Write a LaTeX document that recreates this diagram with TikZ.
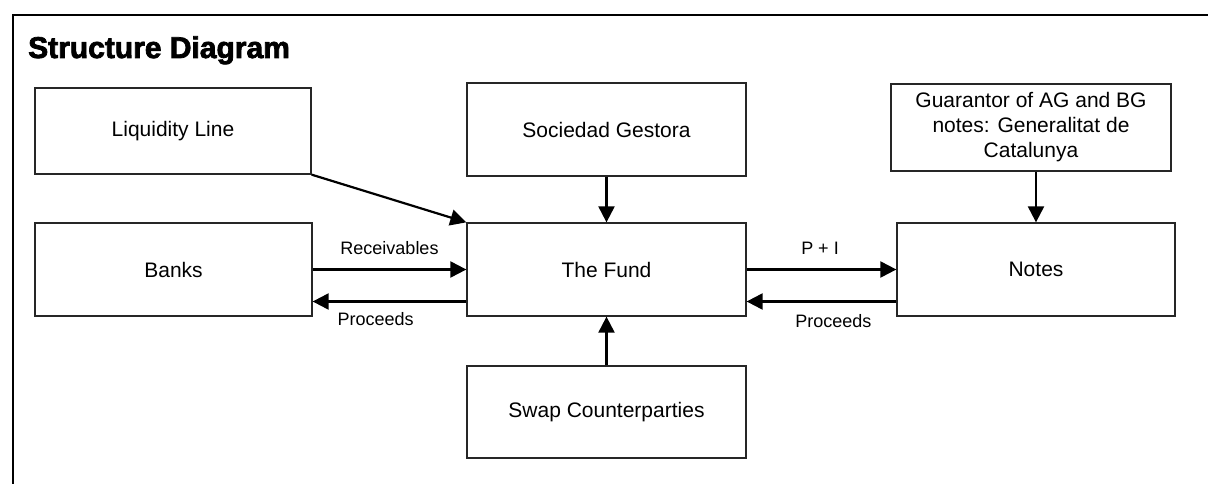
\documentclass[tikz,border=0pt]{standalone}
\usepackage{fontspec}
\setmainfont{Liberation Sans}
\newfontfamily\heavyfont[BoldFeatures={FakeBold=2.5}]{Liberation Sans}
\usetikzlibrary{arrows.meta}

\begin{document}
\begin{tikzpicture}[x=1pt, y=-1pt,
    box/.style={draw, line width=1.3pt, draw=black!85, align=center, inner sep=4pt,
      font=\fontsize{21}{25}\selectfont},
    arr/.style={line width=2.2pt, -{Triangle[length=16pt, width=16pt]}},
    lbl/.style={inner sep=0pt, font=\fontsize{18}{21}\selectfont}]
              \useasboundingbox (0,0) rectangle (1208,484);
              \draw[line width=2.6pt] (13,486) -- (13,15) -- (1210,15);
              \node[anchor=base west, inner sep=0pt, font=\fontsize{30}{34}\heavyfont\bfseries] (title) at (28,58) {Structure Diagram};

              \node[box, minimum width=276pt, minimum height=86pt] (liq) at (173,131) {Liquidity Line};
              \node[box, minimum width=279pt, minimum height=93pt] (soc) at (606.5,129.5) {Sociedad Gestora};
              \node[box, minimum width=280pt, minimum height=87pt] (guar) at (1031,127.5) {Guarantor of AG and BG\\notes: Generalitat de\\Catalunya};
              \node[box, minimum width=277pt, minimum height=93pt] (banks) at (173.5,269.5) {Banks};
              \node[box, minimum width=279pt, minimum height=93pt] (fund) at (606.5,269.5) {The Fund};
              \node[box, minimum width=278pt, minimum height=93pt] (notes) at (1036,269.5) {Notes};
              \node[box, minimum width=279pt, minimum height=92pt] (swap) at (606.5,412) {Swap Counterparties};

              \draw[arr] (liq.south east) -- (fund.north west);
              \draw[arr] (soc) -- (fund);
              \draw[arr] (guar.south -| notes.north) -- (notes.north);
              \draw[arr] (swap) -- (fund);

              \draw[arr] (banks.east) -- node[lbl, yshift=21pt] {Receivables} (fund.west);
              \draw[arr] ([yshift=-32pt]fund.west) -- node[lbl, pos=0.59, yshift=-18pt] {Proceeds} ([yshift=-32pt]banks.east);
              \draw[arr] (fund.east) -- node[lbl, pos=0.49, yshift=21pt] {P + I} (notes.west);
              \draw[arr] ([yshift=-32pt]notes.west) -- node[lbl, pos=0.42, yshift=-20pt] {Proceeds} ([yshift=-32pt]fund.east);
            \end{tikzpicture}
\end{document}
